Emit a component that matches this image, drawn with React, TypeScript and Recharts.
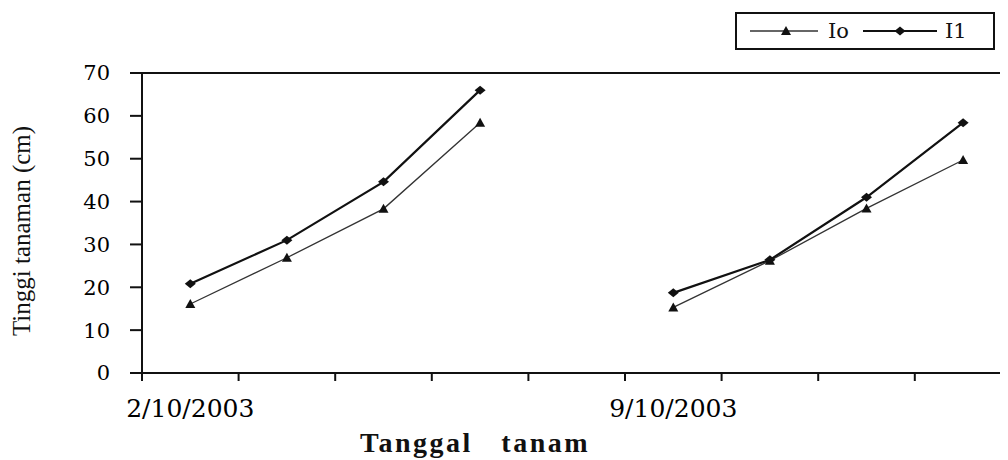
import React from 'react';
import { LineChart, Line, XAxis, YAxis, ReferenceLine, Label } from 'recharts';

const categories = ['2/10/2003', '', '', '', '', '9/10/2003', '', '', '', ''];
const seriesI0 = [16.1, 26.9, 38.3, 58.4, null, 15.3, 26.2, 38.4, 49.7, null];
const seriesI1 = [20.8, 31.0, 44.6, 66.0, null, 18.7, 26.4, 41.0, 58.4, null];
const yTicks = [0, 10, 20, 30, 40, 50, 60, 70];
const seriesNames = ['Io', 'I1'];

const data = categories.map((c, i) => ({
  x: i + 0.5,
  label: c,
  I0: seriesI0[i],
  I1: seriesI1[i],
}));

const boundaryTicks = categories.map((_, i) => i).concat([categories.length]);
const labelTicks = categories.map((c, i) => (c ? i + 0.5 : null)).filter((v) => v !== null) as number[];

const Triangle = (props: any) => {
  const { cx, cy, value, index } = props;
  if (value === null || value === undefined || cy == null) return <g key={`t${index}`} />;
  const s = 5;
  return (
    <polygon
      key={`t${index}`}
      points={`${cx},${cy - s} ${cx - s},${cy + s * 0.8} ${cx + s},${cy + s * 0.8}`}
      fill="#111"
    />
  );
};

const Diamond = (props: any) => {
  const { cx, cy, value, index } = props;
  if (value === null || value === undefined || cy == null) return <g key={`d${index}`} />;
  const w = 5.5;
  const h = 4.5;
  return (
    <polygon
      key={`d${index}`}
      points={`${cx},${cy - h} ${cx + w},${cy} ${cx},${cy + h} ${cx - w},${cy}`}
      fill="#111"
    />
  );
};

const serif = '"DejaVu Serif", serif';

export default function App() {
  return (
    <div style={{ position: 'relative', width: 1000, height: 452, overflow: 'hidden', background: '#fff' }}>
      <LineChart
        width={1180}
        height={452}
        data={data}
        margin={{ top: 65, right: 80, bottom: 47, left: 0 }}
      >
        <XAxis
          xAxisId="cat"
          dataKey="x"
          type="number"
          domain={[0, categories.length]}
          ticks={boundaryTicks}
          tickFormatter={() => ''}
          stroke="#111"
          strokeWidth={2}
          tickSize={8}
          height={10}
          allowDataOverflow
        />
        <XAxis
          xAxisId="lbl"
          dataKey="x"
          type="number"
          domain={[0, categories.length]}
          ticks={labelTicks}
          tickFormatter={(v: number) => categories[Math.floor(v)]}
          axisLine={false}
          tickLine={false}
          tickSize={0}
          tickMargin={16}
          height={30}
          tick={{ fontFamily: serif, fontSize: 25, fill: '#000' }}
          interval={0}
          allowDataOverflow
        >
          <Label
            value={'Tanggal\u00a0\u00a0\u00a0tanam'}
            position="bottom"
            dx={-150}
            dy={14}
            style={{ fontFamily: '"Liberation Serif", serif', fontSize: 28, fontWeight: 'bold', letterSpacing: 2.5, fill: '#111' }}
          />
        </XAxis>
        <YAxis
          dataKey="I1"
          type="number"
          domain={[0, 70]}
          ticks={yTicks}
          width={134}
          stroke="#111"
          strokeWidth={2}
          tickSize={12}
          tickMargin={20}
          tick={{ fontFamily: serif, fontSize: 21, fill: '#000' }}
          interval={0}
        >
          <Label
            value="Tinggi tanaman (cm)"
            angle={-90}
            position="insideLeft"
            dx={8}
            dy={8}
            style={{ fontFamily: '"Liberation Serif", serif', fontSize: 25, fill: '#111', textAnchor: 'middle' }}
          />
        </YAxis>
        <ReferenceLine xAxisId="cat" y={70} stroke="#111" strokeWidth={2} />
        <Line
          xAxisId="cat"
          type="linear"
          dataKey="I0"
          name={seriesNames[0]}
          stroke="#333"
          strokeWidth={1.3}
          dot={Triangle}
          connectNulls={false}
          isAnimationActive={false}
        />
        <Line
          xAxisId="cat"
          type="linear"
          dataKey="I1"
          name={seriesNames[1]}
          stroke="#111"
          strokeWidth={2.2}
          dot={Diamond}
          connectNulls={false}
          isAnimationActive={false}
        />
      </LineChart>
      <div
        style={{
          position: 'absolute',
          left: 727,
          top: 4,
          width: 256,
          height: 34,
          border: '2px solid #111',
          display: 'flex',
          alignItems: 'center',
          fontFamily: serif,
          fontSize: 21,
          color: '#111',
        }}
      >
        <svg width={68} height={20} style={{ marginLeft: 13, flexShrink: 0 }}>
          <line x1={0} y1={10} x2={68} y2={10} stroke="#333" strokeWidth={1.5} />
          <polygon points="36,5 31,14 41,14" fill="#111" />
        </svg>
        <span style={{ marginLeft: 10 }}>{seriesNames[0]}</span>
        <svg width={74} height={20} style={{ marginLeft: 14, flexShrink: 0 }}>
          <line x1={0} y1={10} x2={74} y2={10} stroke="#111" strokeWidth={2} />
          <polygon points="37,5.5 42.5,10 37,14.5 31.5,10" fill="#111" />
        </svg>
        <span style={{ marginLeft: 8 }}>{seriesNames[1]}</span>
      </div>
    </div>
  );
}
